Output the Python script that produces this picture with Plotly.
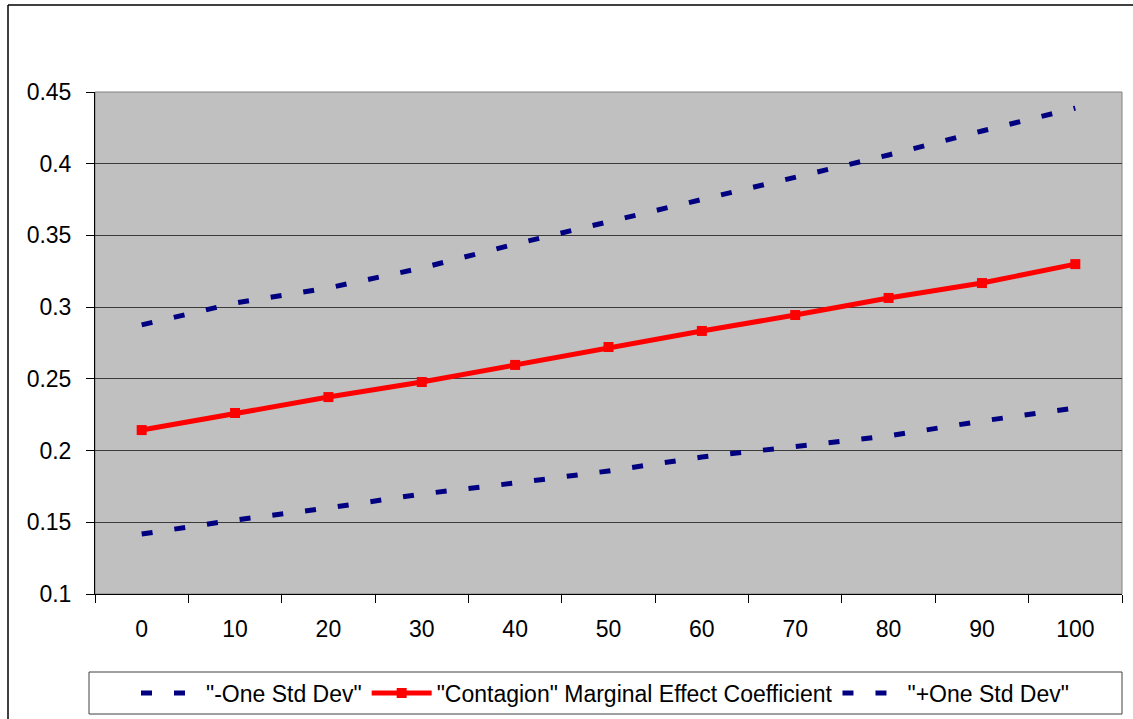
import plotly.graph_objects as go

categories = ["0", "10", "20", "30", "40", "50", "60", "70", "80", "90", "100"]
minus_sd = [0.1418, 0.1516, 0.1600, 0.1697, 0.1774, 0.1858, 0.1955, 0.2025, 0.2102, 0.2206, 0.2297]
contagion = [0.2143, 0.2262, 0.2373, 0.2478, 0.2597, 0.2722, 0.2834, 0.2945, 0.3064, 0.3168, 0.3300]
plus_sd = [0.2876, 0.3029, 0.3134, 0.3273, 0.3440, 0.3594, 0.3747, 0.3907, 0.4061, 0.4228, 0.4388]
y_ticks = [0.1, 0.15, 0.2, 0.25, 0.3, 0.35, 0.4, 0.45]
y_labels = ["0.1", "0.15", "0.2", "0.25", "0.3", "0.35", "0.4", "0.45"]

W, H = 1133, 719
L, R, T, B = 95, 1122, 92, 594
FONT = "Liberation Sans, Arial, sans-serif"

def px(xp):
    return (xp - L) / (R - L)

def py(yp):
    return (B - yp) / (B - T)

fig = go.Figure()
fig.add_trace(go.Scatter(
    x=categories, y=minus_sd, name='"-One Std Dev"', mode="lines",
    line=dict(color="#000080", width=5, dash="11px,22px"),
))
fig.add_trace(go.Scatter(
    x=categories, y=contagion, name='"Contagion" Marginal Effect Coefficient',
    mode="lines+markers",
    line=dict(color="#FF0000", width=5),
    marker=dict(symbol="square", size=10, color="#FF0000"),
))
fig.add_trace(go.Scatter(
    x=categories, y=plus_sd, name='"+One Std Dev"', mode="lines",
    line=dict(color="#000080", width=5, dash="11px,22px"),
))

fig.update_layout(
    width=W, height=H,
    margin=dict(l=L, r=W - R, t=T, b=H - B, pad=0, autoexpand=False),
    paper_bgcolor="white",
    plot_bgcolor="#C0C0C0",
    font=dict(family=FONT, size=23, color="black"),
    showlegend=True,
    legend=dict(
        orientation="h", x=px(605), xanchor="center", y=py(693), yanchor="middle",
        borderwidth=0, bgcolor="rgba(0,0,0,0)",
        font=dict(family=FONT, size=23, color="black"),
        traceorder="normal", itemwidth=60,
    ),
    xaxis=dict(
        type="category", categoryorder="array", categoryarray=categories,
        range=[-0.5, len(categories) - 0.5],
        tickson="boundaries", ticks="outside", ticklen=8, tickcolor="black",
        showline=True, linecolor="black", linewidth=1,
        showgrid=False, zeroline=False, fixedrange=True,
        ticklabelstandoff=14, automargin=False,
    ),
    yaxis=dict(
        range=[0.1, 0.45], tickvals=y_ticks, ticktext=y_labels,
        ticks="outside", ticklen=8, tickcolor="black",
        showline=True, linecolor="black", linewidth=1,
        showgrid=True, gridcolor="#3a3a3a", gridwidth=1,
        zeroline=False, fixedrange=True, ticklabelstandoff=10, automargin=False,
    ),
    shapes=[
        dict(type="rect", xref="x domain", yref="y domain", x0=0, x1=1, y0=0, y1=1,
             line=dict(color="#808080", width=1), layer="below"),
        dict(type="line", xref="paper", yref="paper", x0=px(8), x1=px(W + 5), y0=py(5), y1=py(5),
             line=dict(color="black", width=1.5)),
        dict(type="line", xref="paper", yref="paper", x0=px(8), x1=px(8), y0=py(5), y1=py(H + 5),
             line=dict(color="black", width=1.5)),
        dict(type="rect", xref="paper", yref="paper", x0=px(89), x1=px(1122), y0=py(672), y1=py(714),
             line=dict(color="#404040", width=1), fillcolor="white", layer="below"),
    ],
)

fig.write_html(
    "out.html",
    config={"displayModeBar": False},
    post_script="document.body.style.margin='0px';document.body.style.overflow='hidden';",
)
